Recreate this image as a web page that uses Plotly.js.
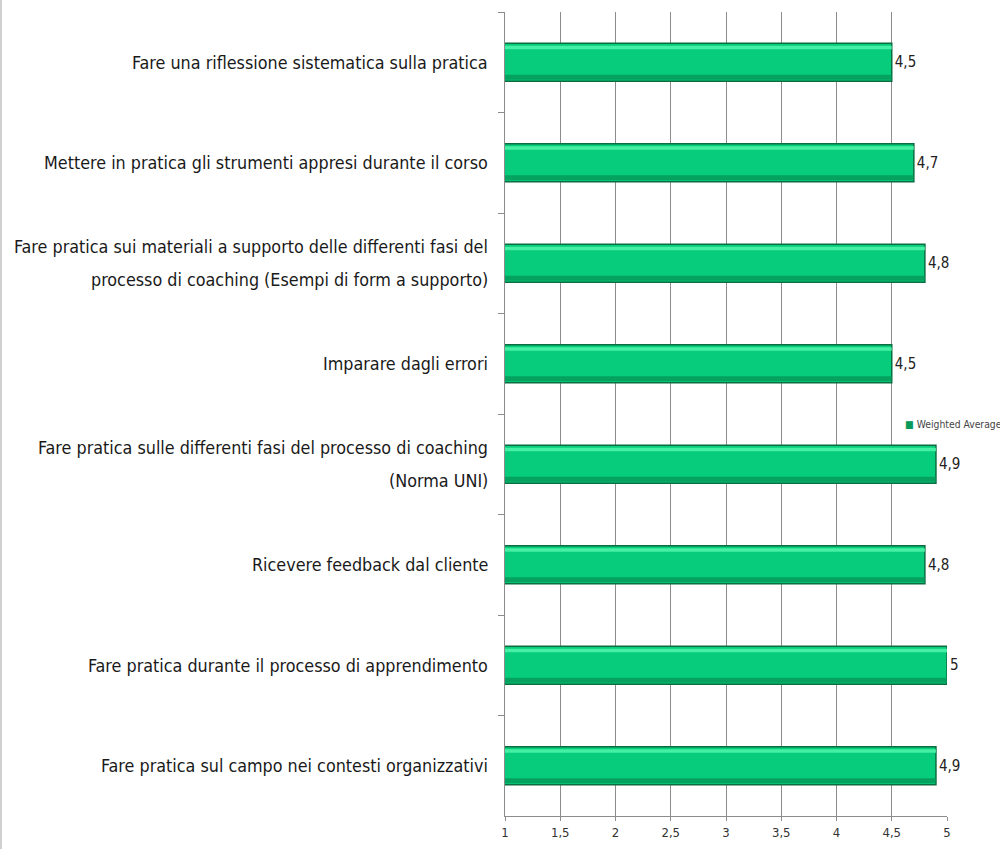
<!DOCTYPE html>
<html>
<head>
<meta charset="utf-8">
<script src="https://cdn.plot.ly/plotly-3.0.1.min.js"></script>
<style>
html,body{margin:0;padding:0;background:#fff;}
#chart{width:1000px;height:849px;box-sizing:border-box;border-left:2px solid #d0d0d0;}
</style>
</head>
<body>
<div id="chart"></div>
<script>
// Categories, top to bottom; "<br>" marks a line break in the label
const categories = [
  "Fare una riflessione sistematica sulla pratica",
  "Mettere in pratica gli strumenti appresi durante il corso",
  "Fare pratica sui materiali a supporto delle differenti fasi del<br>processo di coaching (Esempi di form a supporto)",
  "Imparare dagli errori",
  "Fare pratica sulle differenti fasi del processo di coaching<br>(Norma UNI)",
  "Ricevere feedback dal cliente",
  "Fare pratica durante il processo di apprendimento",
  "Fare pratica sul campo nei contesti organizzativi"
];
const weightedAverage = [4.5, 4.7, 4.8, 4.5, 4.9, 4.8, 5, 4.9];
const xTicks = [1, 1.5, 2, 2.5, 3, 3.5, 4, 4.5, 5];
const seriesName = "Weighted Average";

const FONT = "'Liberation Sans Narrow', 'DejaVu Sans Condensed', sans-serif";

const trace = {
  type: "bar",
  orientation: "h",
  y: categories,
  x: weightedAverage,
  name: seriesName,
  width: 0.38,
  marker: {color: "#07cc7c", line: {color: "#0b6e41", width: 1.5}},
  text: weightedAverage,
  texttemplate: "%{x}",
  textposition: "outside",
  cliponaxis: false,
  textfont: {family: FONT, size: 15, color: "#222"},
  hoverinfo: "none"
};
// light highlight stripe near the top of each bar (cylinder look)
const shine = {
  type: "bar", orientation: "h", y: categories, x: weightedAverage,
  width: 0.035, offset: -0.165,
  marker: {color: "rgba(80,245,170,0.85)", line: {width: 0}},
  hoverinfo: "none", showlegend: false
};
// darker shade near the bottom of each bar
const shade = {
  type: "bar", orientation: "h", y: categories, x: weightedAverage,
  width: 0.05, offset: 0.125,
  marker: {color: "rgba(4,150,88,0.8)", line: {width: 0}},
  hoverinfo: "none", showlegend: false
};

// Category labels as centered multi-line annotations
const annotations = [];
categories.forEach(function (cat) {
  const lines = cat.split("<br>");
  const n = lines.length;
  lines.forEach(function (line, i) {
    annotations.push({
      xref: "paper", yref: "y", x: 0, y: cat,
      xanchor: "right", yanchor: "middle",
      xshift: -15, yshift: ((n - 1) / 2 - i) * 33,
      text: line, showarrow: false,
      font: {family: FONT, size: 17.8, color: "#1a1a1a"}
    });
  });
});
// Legend entry
annotations.push({
  xref: "paper", yref: "paper", x: 0.9, y: 0.487,
  xanchor: "left", yanchor: "middle", showarrow: false,
  text: "<span style='color:#0a9a5c'>■</span> " + seriesName,
  font: {family: FONT, size: 10.3, color: "#444"}
});

const layout = {
  width: 1000, height: 849,
  margin: {l: 503, r: 55, t: 12, b: 33},
  paper_bgcolor: "#fff", plot_bgcolor: "#fff",
  separators: ",.",
  showlegend: false,
  barmode: "overlay",
  xaxis: {
    range: [1, 5],
    tickvals: xTicks,
    showgrid: true, gridcolor: "#8c8c8c", gridwidth: 1,
    zeroline: false,
    showline: true, linecolor: "#8c8c8c", linewidth: 1,
    ticks: "outside", ticklen: 4, tickcolor: "#8c8c8c",
    tickfont: {family: FONT, size: 13, color: "#333"}
  },
  yaxis: {
    type: "category",
    categoryorder: "array", categoryarray: categories,
    autorange: "reversed",
    showticklabels: false,
    showline: true, linecolor: "#8c8c8c", linewidth: 1,
    ticks: "outside", ticklen: 6, tickcolor: "#8c8c8c",
    tickson: "boundaries",
    showgrid: false, zeroline: false
  },
  annotations: annotations
};

Plotly.newPlot("chart", [trace, shine, shade], layout, {displayModeBar: false, responsive: false});
</script>
</body>
</html>
